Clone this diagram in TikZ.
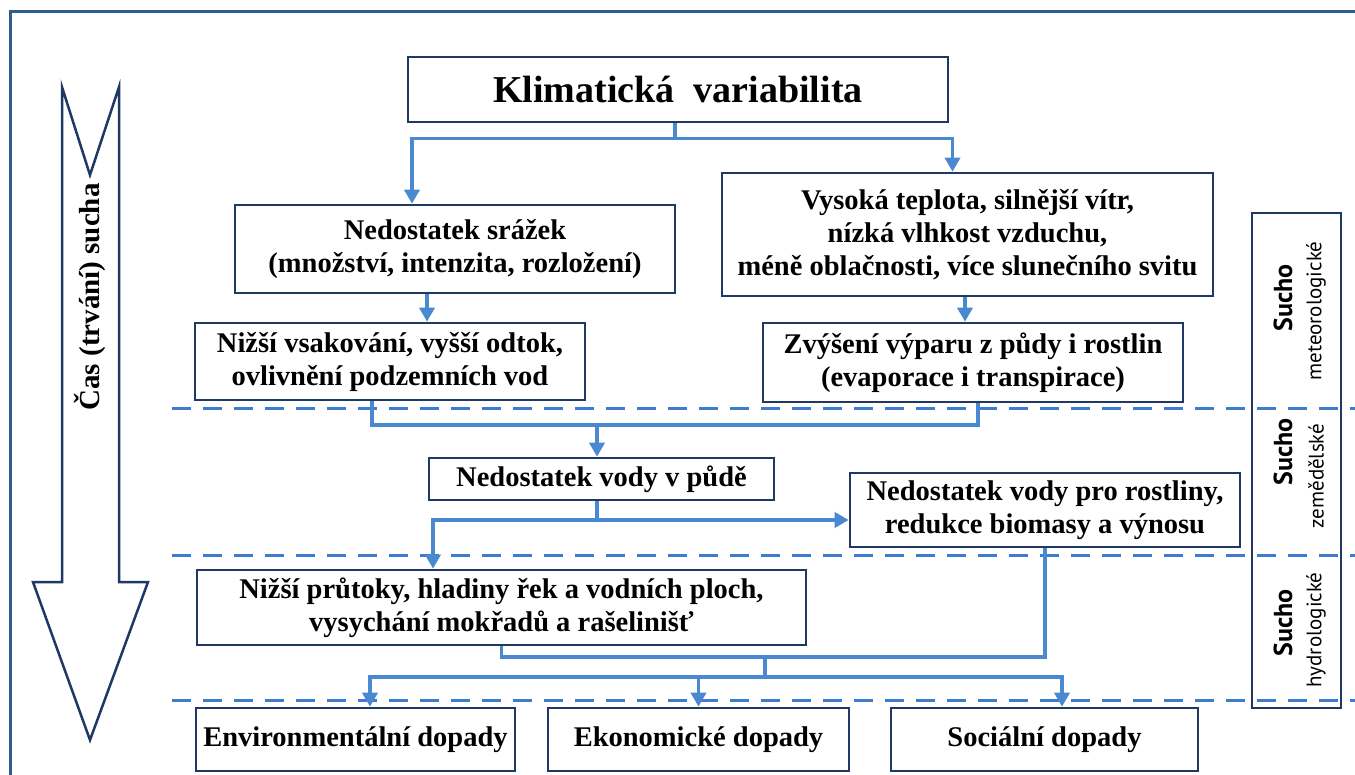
\documentclass[tikz,border=0pt]{standalone}
\usepackage{fontspec}
\setmainfont{Liberation Serif}
\newfontfamily\labfont{PT Sans}
\usetikzlibrary{arrows.meta}
\definecolor{boxc}{HTML}{1F3864}
\definecolor{conc}{HTML}{4A88D0}
\definecolor{dashc}{HTML}{3D7CCF}
\definecolor{framec}{HTML}{2E5F8C}
\begin{document}
\begin{tikzpicture}[x=1pt,y=-1pt,
  bx/.style={draw=boxc,line width=2.6pt,fill=white,inner sep=0pt,align=center,
    font=\fontsize{28.5}{33}\selectfont\bfseries},
  con/.style={draw=conc,line width=3.5pt},
  arr/.style={con,-{Triangle[length=14pt,width=15pt]}},
  dsh/.style={draw=dashc,line width=3pt,dash pattern=on 19pt off 12pt},
  bigarrow/.style={draw=boxc,line width=2.5pt,fill=white,line join=miter},
  sucho/.style={rotate=90,inner sep=0pt,font=\labfont\bfseries\fontsize{26}{26}\selectfont},
  suchob/.style={rotate=90,inner sep=0pt,font=\labfont\fontsize{21}{21}\selectfont},
]
\useasboundingbox (0,0) rectangle (1355,775);
\fill[white] (0,0) rectangle (1355,775);
% outer frame
\draw[framec,line width=3pt] (10,780) -- (10,12) -- (1360,12);
% time arrow
\draw[bigarrow] (62,87) -- (90,175) -- (119,87) -- (119,582) -- (148,582) -- (90,740) -- (33,582) -- (62,582) -- cycle;
\node[rotate=90,inner sep=0pt,font=\fontsize{29}{33}\selectfont\bfseries] (cas) at (90,297) {Čas (trvání) sucha};
% dashed separators
\coordinate (d1a) at (172,409); \coordinate (d1b) at (1355,409);
\coordinate (d2a) at (172,555); \coordinate (d2b) at (1355,555);
\coordinate (d3a) at (172,700); \coordinate (d3b) at (1355,700);
% side box
\node[draw=boxc,line width=2pt,minimum width=89pt,minimum height=495pt,inner sep=0pt] (side) at (1296.5,460.5) {};
\draw[dsh] (d1a) -- (d1b);
\draw[dsh] (d2a) -- (d2b);
\draw[dsh] (d3a) -- (d3b);
\node[sucho] (s1) at (1283,298) {Sucho};
\node[suchob] (s1b) at (1316,311) {meteorologické};
\node[sucho] (s2) at (1283,452) {Sucho};
\node[suchob] (s2b) at (1316,476) {zemědělské};
\node[sucho] (s3) at (1283,623) {Sucho};
\node[suchob] (s3b) at (1316,630) {hydrologické};
% boxes
\node[bx,minimum width=540pt,minimum height=65pt,font=\fontsize{38}{44}\selectfont\bfseries] (klim) at (678,89.5) {Klimatická\ \ variabilita};
\node[bx,minimum width=440pt,minimum height=88pt] (srazky) at (455,249) {Nedostatek srážek\\(množství, intenzita, rozložení)};
\node[bx,minimum width=491pt,minimum height=123pt] (vysoka) at (967.5,234.5) {Vysoká teplota, silnější vítr,\\nízká vlhkost vzduchu,\\méně oblačnosti, více slunečního svitu};
\node[bx,minimum width=390pt,minimum height=77pt] (vsak) at (390,361.5) {Nižší vsakování, vyšší odtok,\\ovlivnění podzemních vod};
\node[bx,minimum width=420pt,minimum height=79pt] (vypar) at (973,362.5) {Zvýšení výparu z půdy i rostlin\\(evaporace i transpirace)};
\node[bx,minimum width=345pt,minimum height=42pt] (puda) at (601.5,479) {Nedostatek vody v půdě};
\node[bx,minimum width=390pt,minimum height=74pt] (rostl) at (1045,510) {Nedostatek vody pro rostliny,\\redukce biomasy a výnosu};
\node[bx,minimum width=609pt,minimum height=75pt] (prutok) at (501.5,607.5) {Nižší průtoky, hladiny řek a vodních ploch,\\vysychání mokřadů a rašelinišť};
\node[bx,minimum width=319pt,minimum height=63pt] (env) at (355.5,739.5) {Environmentální dopady};
\node[bx,minimum width=301pt,minimum height=63pt] (eko) at (698.5,739.5) {Ekonomické dopady};
\node[bx,minimum width=307pt,minimum height=63pt] (soc) at (1044.5,739.5) {Sociální dopady};
% connectors
\draw[con] ([xshift=-3pt]klim.south) -- ++(0,15) coordinate (j1);
\draw[arr] (j1) -| ([xshift=-43pt]srazky.north);
\draw[arr] (j1) -| ([xshift=-15pt]vysoka.north);
\draw[arr] ([xshift=-28pt]srazky.south) -- ([xshift=-28pt]srazky.south |- vsak.north);
\draw[arr] ([xshift=-2.5pt]vysoka.south) -- ([xshift=-2.5pt]vysoka.south |- vypar.north);
\coordinate (m1) at (597,425);
\draw[con] ([xshift=-18pt]vsak.south) |- (m1) -| ([xshift=5pt]vypar.south);
\draw[arr] (m1) -- (m1 |- puda.north);
\coordinate (m2) at (597,520);
\draw[con] (m1 |- puda.south) -- (m2);
\draw[arr] (m2) -- (m2 -| rostl.west);
\draw[arr] (m2) -| ([xshift=-68.5pt]prutok.north);
\coordinate (m4) at (765,657);
\draw[con] (rostl.south) |- (m4) -| (prutok.south);
\coordinate (m5) at (765,677);
\draw[con] (m4) -- (m5);
\draw[arr] (m5) -| ([xshift=14.5pt]env.north);
\draw[arr] (m5) -| ([xshift=17.5pt]soc.north);
\draw[arr] (m5 -| eko.north) -- (eko.north);
\end{tikzpicture}
\end{document}
